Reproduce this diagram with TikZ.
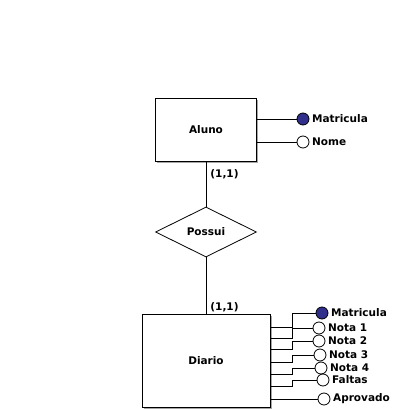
\documentclass[tikz,border=0pt]{standalone}
\usepackage{fontspec}
\usepackage{tikz}
\usetikzlibrary{shapes.geometric, shadows}
\newfontfamily\erfont{DejaVu Sans}
\definecolor{keyblue}{RGB}{48,48,140}

\tikzset{
    entity/.style={draw, fill=white, inner sep=0pt,
        general shadow={fill=gray!70, shadow xshift=1.5pt, shadow yshift=-1.5pt}},
    relation/.style={draw, diamond, fill=white, inner sep=0pt},
    attr/.style={draw, circle, fill=white, minimum size=12pt, inner sep=0pt},
    keyattr/.style={attr, fill=keyblue},
    card/.style={anchor=west, inner sep=0pt}
}

\begin{document}
\begin{tikzpicture}[x=1pt, y=-1pt, line width=0.8pt,
    font=\erfont\bfseries\fontsize{10.5}{12}\selectfont,
    every label/.style={label distance=-1pt}]

    \useasboundingbox (0,0) rectangle (400,415);

    % Entities
    \node[entity, minimum width=101pt, minimum height=63pt] (aluno) at (206,129.5) {Aluno};
    \node[entity, minimum width=128pt, minimum height=93pt] (diario) at (206,360.5) {Diario};

    % Relationship
    \node[relation, minimum width=101pt, minimum height=50pt] (possui) at (206,232) {Possui};
    \draw (aluno) -- (possui);
    \draw (possui) -- (diario);
    \node[card] (card1) at (210,174) {(1,1)};
    \node[card] (card2) at (210,307) {(1,1)};

    % Attributes of Aluno
    \node[keyattr, label=right:Matricula] (amat) at (303,119) {};
    \node[attr, label=right:Nome] (anome) at (303,142) {};
    \draw (aluno.east |- amat) -- (amat);
    \draw (aluno.east |- anome) -- (anome);

    % Attributes of Diario
    \node[keyattr, label=right:Matricula] (dmat) at (322,313) {};
    \node[attr, label=right:Nota 1] (nota1) at (319,328) {};
    \node[attr, label=right:Nota 2] (nota2) at (319,341) {};
    \node[attr, label=right:Nota 3] (nota3) at (320,355) {};
    \node[attr, label=right:Nota 4] (nota4) at (321,368) {};
    \node[attr, label=right:Faltas] (faltas) at (323,380) {};
    \node[attr, label=right:Aprovado] (aprov) at (324,399) {};

    % connectors with an elbow at x = 292
    \draw (diario.east |- 0,327) -| (292,313) -- (dmat);
    \draw (diario.east |- 0,338) -| (292,328) -- (nota1);
    \draw (diario.east |- 0,349) -| (292,341) -- (nota2);
    \draw (diario.east |- 0,362) -| (292,355) -- (nota3);
    \draw (diario.east |- 0,374) -| (292,368) -- (nota4);
    \draw (diario.east |- 0,386) -| (292,380) -- (faltas);
    \draw (diario.east |- aprov) -- (aprov);

\end{tikzpicture}
\end{document}
